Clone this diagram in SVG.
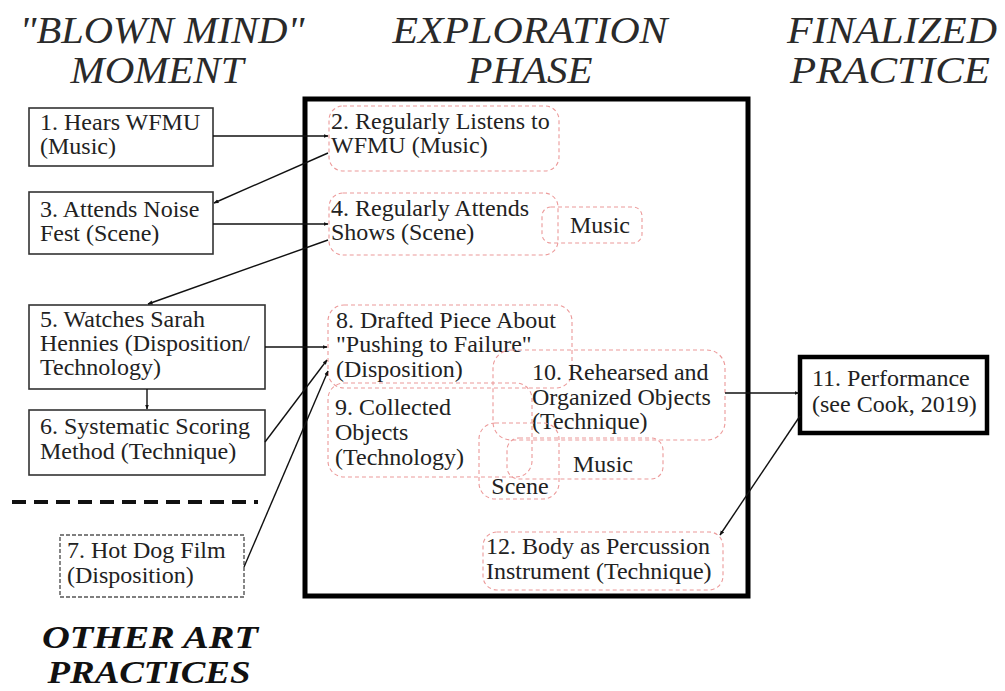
<svg xmlns="http://www.w3.org/2000/svg" width="1005" height="691" viewBox="0 0 1005 691">
<defs>
<marker id="ah" viewBox="0 0 10 10" refX="9" refY="5" markerWidth="5" markerHeight="5" orient="auto-start-reverse" markerUnits="userSpaceOnUse">
<path d="M0,1 L10,5 L0,9 z" fill="#111"/>
</marker>
<style>
.hdr{font-family:"Liberation Serif",serif;font-style:italic;font-size:37px;fill:#2a2a2a;text-anchor:middle}
.hdr2{font-family:"Liberation Serif",serif;font-style:italic;font-weight:bold;font-size:31px;fill:#111;text-anchor:middle}
.t{font-family:"Liberation Serif",serif;font-size:24px;fill:#222}
.tc{font-family:"Liberation Serif",serif;font-size:24px;fill:#222;text-anchor:middle}
.box{fill:#fff;stroke:#333;stroke-width:1.6}
.dbox{fill:#fff;stroke:#555;stroke-width:1.4;stroke-dasharray:4 2}
.rbox{fill:none;stroke:#ec9a9a;stroke-width:1.1;stroke-dasharray:4 3}
.conn{stroke:#111;stroke-width:1.4;fill:none;marker-end:url(#ah)}
</style>
</defs>
<rect width="1005" height="691" fill="#fff"/>

<g id="headers">
<text class="hdr" x="162" y="43" textLength="285" lengthAdjust="spacingAndGlyphs">"BLOWN MIND"</text>
<text class="hdr" x="157" y="83" textLength="173" lengthAdjust="spacingAndGlyphs">MOMENT</text>
<text class="hdr" x="530" y="43" textLength="275" lengthAdjust="spacingAndGlyphs">EXPLORATION</text>
<text class="hdr" x="530" y="83" textLength="125" lengthAdjust="spacingAndGlyphs">PHASE</text>
<text class="hdr" x="892" y="43" textLength="210" lengthAdjust="spacingAndGlyphs">FINALIZED</text>
<text class="hdr" x="890" y="83" textLength="200" lengthAdjust="spacingAndGlyphs">PRACTICE</text>
<text class="hdr2" x="150" y="648" textLength="216" lengthAdjust="spacingAndGlyphs">OTHER ART</text>
<text class="hdr2" x="149" y="683" textLength="203" lengthAdjust="spacingAndGlyphs">PRACTICES</text>
</g>

<g id="divider">
<line x1="12" y1="502" x2="258" y2="502" stroke="#111" stroke-width="4" stroke-dasharray="14 8"/>
</g>

<g id="phase-box">
<rect x="305" y="99" width="443" height="497" fill="none" stroke="#000" stroke-width="5"/>
</g>

<g id="n1">
<rect class="box" x="29" y="108" width="184" height="58"/>
<text class="t" x="40" y="130">1. Hears WFMU</text>
<text class="t" x="40" y="154">(Music)</text>
</g>
<g id="n3">
<rect class="box" x="29" y="192" width="184" height="62"/>
<text class="t" x="40" y="217">3. Attends Noise</text>
<text class="t" x="40" y="241">Fest (Scene)</text>
</g>
<g id="n5">
<rect class="box" x="29" y="305" width="236" height="84"/>
<text class="t" x="40" y="327">5. Watches Sarah</text>
<text class="t" x="40" y="351">Hennies (Disposition/</text>
<text class="t" x="40" y="375">Technology)</text>
</g>
<g id="n6">
<rect class="box" x="29" y="410" width="236" height="65"/>
<text class="t" x="40" y="434">6. Systematic Scoring</text>
<text class="t" x="40" y="459">Method (Technique)</text>
</g>
<g id="n7">
<rect class="dbox" x="60" y="535" width="184" height="62"/>
<text class="t" x="67" y="558">7. Hot Dog Film</text>
<text class="t" x="67" y="583">(Disposition)</text>
</g>

<g id="n2">
<rect class="rbox" x="329" y="106" width="230" height="65" rx="14"/>
<text class="t" x="331" y="129">2. Regularly Listens to</text>
<text class="t" x="331" y="153">WFMU (Music)</text>
</g>
<g id="n4">
<rect class="rbox" x="329" y="193" width="229" height="62" rx="14"/>
<text class="t" x="331" y="216">4. Regularly Attends</text>
<text class="t" x="331" y="240">Shows (Scene)</text>
</g>
<g id="n4-music">
<rect class="rbox" x="542" y="207" width="100" height="36" rx="9"/>
<text class="tc" x="600" y="233">Music</text>
</g>
<g id="n8">
<rect class="rbox" x="328" y="305" width="244" height="83" rx="16"/>
<text class="t" x="336" y="328">8. Drafted Piece About</text>
<text class="t" x="336" y="352">"Pushing to Failure"</text>
<text class="t" x="336" y="377">(Disposition)</text>
</g>
<g id="n9">
<rect class="rbox" x="328" y="383" width="204" height="94" rx="16"/>
<text class="t" x="335" y="415">9. Collected</text>
<text class="t" x="335" y="440">Objects</text>
<text class="t" x="335" y="465">(Technology)</text>
</g>
<g id="n10">
<rect class="rbox" x="493" y="350" width="232" height="90" rx="18"/>
<text class="t" x="532" y="380">10. Rehearsed and</text>
<text class="t" x="532" y="405">Organized Objects</text>
<text class="t" x="532" y="429">(Technique)</text>
</g>
<g id="n-scene">
<rect class="rbox" x="479" y="423" width="80" height="76" rx="16"/>
<text class="tc" x="520" y="494">Scene</text>
</g>
<g id="n-music2">
<rect class="rbox" x="507" y="438" width="156" height="41" rx="12"/>
<text class="tc" x="603" y="472">Music</text>
</g>
<g id="n12">
<rect class="rbox" x="483" y="532" width="240" height="58" rx="14"/>
<text class="t" x="486" y="554">12. Body as Percussion</text>
<text class="t" x="486" y="579">Instrument (Technique)</text>
</g>

<g id="n11">
<rect x="800" y="357" width="187" height="76" fill="#fff" stroke="#000" stroke-width="4.5"/>
<text class="t" x="812" y="386">11. Performance</text>
<text class="t" x="812" y="412">(see Cook, 2019)</text>
</g>

<g id="connectors">
<line class="conn" x1="213" y1="136" x2="328" y2="136"/>
<line class="conn" x1="328" y1="153" x2="214" y2="203"/>
<line class="conn" x1="213" y1="224" x2="328" y2="224"/>
<line class="conn" x1="328" y1="240" x2="148" y2="304"/>
<line class="conn" x1="147" y1="389" x2="147" y2="409"/>
<line class="conn" x1="265" y1="347" x2="327" y2="347"/>
<line class="conn" x1="265" y1="442" x2="327" y2="360"/>
<line class="conn" x1="244" y1="567" x2="328" y2="371"/>
<line class="conn" x1="725" y1="393" x2="799" y2="393"/>
<line class="conn" x1="800" y1="416" x2="720" y2="535"/>
</g>
</svg>
